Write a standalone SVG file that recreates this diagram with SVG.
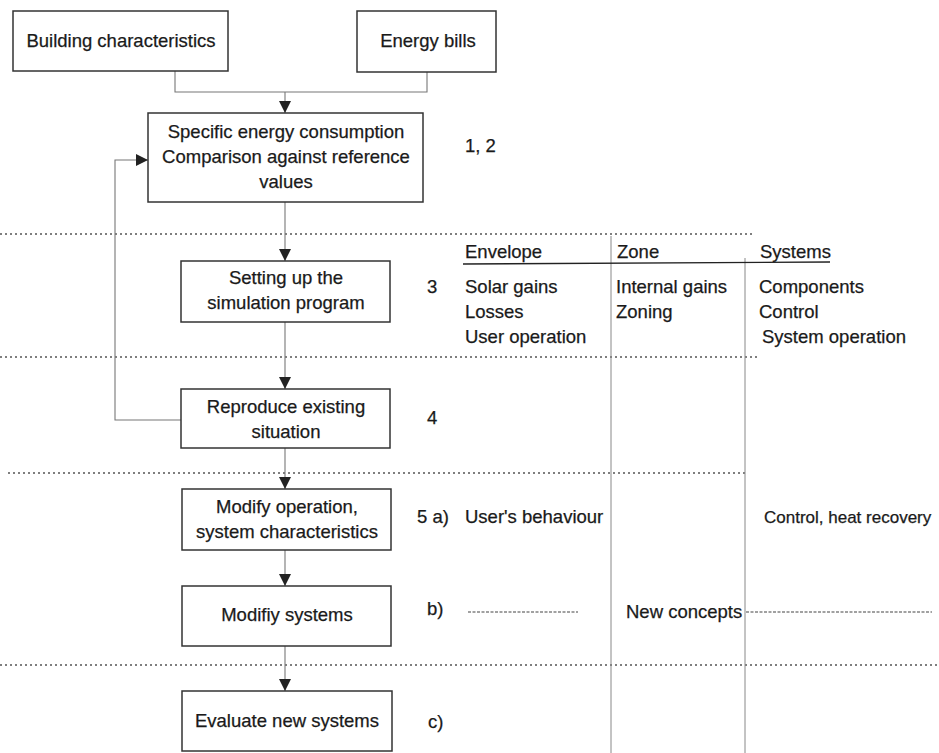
<svg xmlns="http://www.w3.org/2000/svg" width="939" height="753" viewBox="0 0 939 753">
<defs>
<style>
.box{fill:#fff;stroke:#333;stroke-width:1.5}
.t{font-family:"Liberation Sans",Arial,sans-serif;font-size:18.5px;fill:#1a1a1a;stroke:#1a1a1a;stroke-width:0.25}
.c{text-anchor:middle}
.sm{font-size:17px}
.con{fill:none;stroke:#777;stroke-width:1.1}
.sep{fill:none;stroke:#555;stroke-width:1.4;stroke-dasharray:2 3}
.col{fill:none;stroke:#888;stroke-width:1}
.dash{fill:none;stroke:#444;stroke-width:1.2;stroke-dasharray:3 1.5}
</style>
<marker id="ah" viewBox="0 0 12 12" refX="12" refY="6" markerWidth="12" markerHeight="12" markerUnits="userSpaceOnUse" orient="auto">
<path d="M0,0 L12,6 L0,12 Z" fill="#222"/>
</marker>
</defs>
<rect width="939" height="753" fill="#fff"/>

<g id="separators">
<line class="sep" x1="0" y1="234" x2="752" y2="234"/>
<line class="sep" x1="0" y1="357" x2="760" y2="357"/>
<line class="sep" x1="8" y1="473" x2="748" y2="473"/>
<line class="sep" x1="0" y1="665" x2="939" y2="665"/>
</g>

<g id="table">
<line class="col" x1="611" y1="236" x2="611" y2="753"/>
<line class="col" x1="745" y1="258" x2="745" y2="753"/>
<line x1="463" y1="264" x2="830" y2="262" stroke="#222" stroke-width="1.4"/>
<text class="t" x="465" y="258">Envelope</text>
<text class="t" x="617" y="258">Zone</text>
<text class="t" x="760" y="258">Systems</text>
<text class="t" x="465" y="293">Solar gains</text>
<text class="t" x="465" y="318">Losses</text>
<text class="t" x="465" y="343">User operation</text>
<text class="t" x="616" y="293">Internal gains</text>
<text class="t" x="616" y="318">Zoning</text>
<text class="t" x="759" y="293">Components</text>
<text class="t" x="759" y="318">Control</text>
<text class="t" x="762" y="343">System operation</text>
<text class="t" x="465" y="523">User's behaviour</text>
<text class="t sm" x="764" y="523">Control, heat recovery</text>
<line class="dash" x1="468" y1="612" x2="578" y2="612"/>
<text class="t" x="626" y="618">New concepts</text>
<line class="dash" x1="746" y1="612" x2="932" y2="612"/>
</g>

<g id="labels">
<text class="t" x="465" y="152">1, 2</text>
<text class="t" x="427" y="293">3</text>
<text class="t" x="427" y="424">4</text>
<text class="t" x="417" y="523">5 a)</text>
<text class="t" x="427" y="615">b)</text>
<text class="t" x="428" y="728">c)</text>
</g>

<g id="connectors">
<path class="con" d="M175,71 V92 H427 V72"/>
<path class="con" d="M285,92 V113" marker-end="url(#ah)"/>
<path class="con" d="M285,202 V261" marker-end="url(#ah)"/>
<path class="con" d="M285,322 V389" marker-end="url(#ah)"/>
<path class="con" d="M285,448 V489" marker-end="url(#ah)"/>
<path class="con" d="M285,550 V586" marker-end="url(#ah)"/>
<path class="con" d="M285,646 V691" marker-end="url(#ah)"/>
<path class="con" d="M181,420 H115 V160 H148" marker-end="url(#ah)"/>
</g>

<g id="n-building">
<rect class="box" x="13" y="11" width="215" height="60"/>
<text class="t c" x="121" y="47">Building characteristics</text>
</g>
<g id="n-bills">
<rect class="box" x="357" y="11" width="139" height="61"/>
<text class="t c" x="428" y="47">Energy bills</text>
</g>
<g id="n-specific">
<rect class="box" x="148" y="113" width="275" height="89"/>
<text class="t c" x="286" y="138">Specific energy consumption</text>
<text class="t c" x="286" y="163">Comparison against reference</text>
<text class="t c" x="286" y="188">values</text>
</g>
<g id="n-setup">
<rect class="box" x="181" y="261" width="209" height="61"/>
<text class="t c" x="286" y="284">Setting up the</text>
<text class="t c" x="286" y="309">simulation program</text>
</g>
<g id="n-reproduce">
<rect class="box" x="181" y="389" width="209" height="59"/>
<text class="t c" x="286" y="413">Reproduce existing</text>
<text class="t c" x="286" y="438">situation</text>
</g>
<g id="n-modop">
<rect class="box" x="182" y="489" width="209" height="61"/>
<text class="t c" x="287" y="513">Modify operation,</text>
<text class="t c" x="287" y="538">system characteristics</text>
</g>
<g id="n-modsys">
<rect class="box" x="182" y="586" width="209" height="60"/>
<text class="t c" x="287" y="621">Modifiy systems</text>
</g>
<g id="n-evaluate">
<rect class="box" x="182" y="691" width="210" height="60"/>
<text class="t c" x="287" y="727">Evaluate new systems</text>
</g>
</svg>
